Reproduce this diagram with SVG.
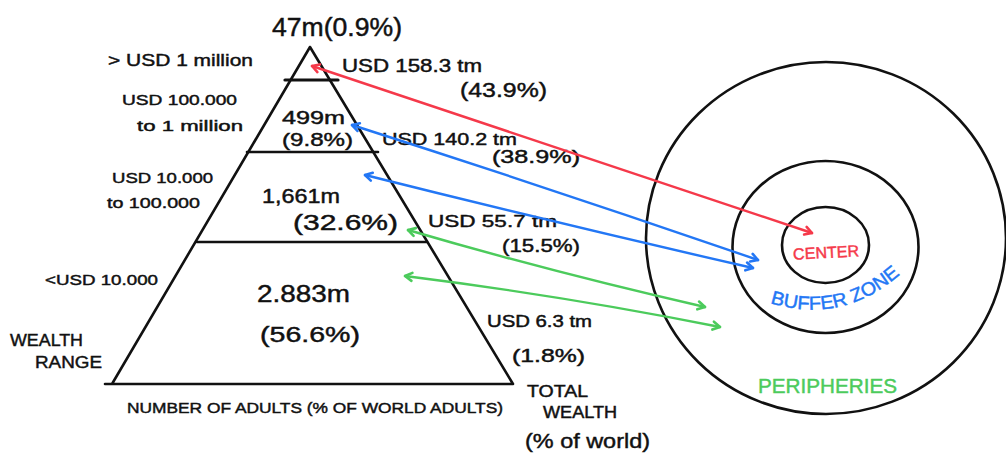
<svg xmlns="http://www.w3.org/2000/svg" width="1006" height="456" viewBox="0 0 1006 456">
<defs>
<style>
text{font-family:"Liberation Sans","DejaVu Sans",sans-serif;fill:#111;stroke:#111;stroke-width:0.45;}
.shape{fill:none;stroke:#111;stroke-width:2.6;stroke-linecap:round;stroke-linejoin:round;}
.red{stroke:#f5394a;}
.blue{stroke:#2377f5;}
.green{stroke:#4ccb5c;}
.conn{fill:none;stroke-width:2.4;stroke-linecap:round;}
text.tr{fill:#f5394a;stroke:#f5394a;}
text.tb{fill:#2377f5;stroke:#2377f5;}
text.tg{fill:#4ccb5c;stroke:#4ccb5c;}
</style>
<marker id="mr" markerUnits="userSpaceOnUse" markerWidth="14" markerHeight="14" refX="10" refY="6" orient="auto-start-reverse"><path d="M3,2 L10,6 L3,10" fill="none" stroke="#f5394a" stroke-width="2.6" stroke-linecap="round" stroke-linejoin="round"/></marker>
<marker id="mb" markerUnits="userSpaceOnUse" markerWidth="14" markerHeight="14" refX="10" refY="6" orient="auto-start-reverse"><path d="M3,2 L10,6 L3,10" fill="none" stroke="#2377f5" stroke-width="2.6" stroke-linecap="round" stroke-linejoin="round"/></marker>
<marker id="mg" markerUnits="userSpaceOnUse" markerWidth="14" markerHeight="14" refX="10" refY="6" orient="auto-start-reverse"><path d="M3,2 L10,6 L3,10" fill="none" stroke="#4ccb5c" stroke-width="2.6" stroke-linecap="round" stroke-linejoin="round"/></marker>
<path id="bufferPath" d="M770,303 Q845,326 905,270"/>
</defs>
<rect width="1006" height="456" fill="#ffffff"/>

<g id="pyramid">
<path class="shape" d="M310,47 L112,384 M310,47 L513,384 M105,384 L513,384"/>
<path class="shape" d="M285,80 L338,80" style="stroke-width:3.2"/>
<path class="shape" d="M247,152 L378,152"/>
<path class="shape" d="M197,242 L427,242"/>
</g>

<g id="tier-top">
<text x="272" y="36" font-size="25" textLength="130" lengthAdjust="spacingAndGlyphs">47m(0.9%)</text>
<text x="108" y="66" font-size="17" textLength="145" lengthAdjust="spacingAndGlyphs">&gt; USD 1 million</text>
<text x="342" y="72" font-size="18" textLength="140" lengthAdjust="spacingAndGlyphs">USD 158.3 tm</text>
<text x="460" y="97" font-size="21" textLength="87" lengthAdjust="spacingAndGlyphs">(43.9%)</text>
</g>

<g id="tier-2">
<text x="122" y="105" font-size="15" textLength="115" lengthAdjust="spacingAndGlyphs">USD 100.000</text>
<text x="137" y="131" font-size="15" textLength="106" lengthAdjust="spacingAndGlyphs">to 1 million</text>
<text x="282" y="124" font-size="18" textLength="63" lengthAdjust="spacingAndGlyphs">499m</text>
<text x="282" y="146" font-size="19" textLength="71" lengthAdjust="spacingAndGlyphs">(9.8%)</text>
<text x="382" y="145" font-size="17" textLength="135" lengthAdjust="spacingAndGlyphs">USD 140.2 tm</text>
<text x="492" y="163" font-size="19" textLength="88" lengthAdjust="spacingAndGlyphs">(38.9%)</text>
</g>

<g id="tier-3">
<text x="112" y="183" font-size="15" textLength="101" lengthAdjust="spacingAndGlyphs">USD 10.000</text>
<text x="107" y="208" font-size="15" textLength="93" lengthAdjust="spacingAndGlyphs">to 100.000</text>
<text x="262" y="203" font-size="20" textLength="78" lengthAdjust="spacingAndGlyphs">1,661m</text>
<text x="293" y="230" font-size="22" textLength="105" lengthAdjust="spacingAndGlyphs">(32.6%)</text>
<text x="428" y="227" font-size="17" textLength="129" lengthAdjust="spacingAndGlyphs">USD 55.7 tm</text>
<text x="502" y="252" font-size="18" textLength="78" lengthAdjust="spacingAndGlyphs">(15.5%)</text>
</g>

<g id="tier-4">
<text x="45" y="285" font-size="15" textLength="113" lengthAdjust="spacingAndGlyphs">&lt;USD 10.000</text>
<text x="257" y="302" font-size="24" textLength="93" lengthAdjust="spacingAndGlyphs">2.883m</text>
<text x="260" y="342" font-size="22" textLength="100" lengthAdjust="spacingAndGlyphs">(56.6%)</text>
<text x="487" y="327" font-size="16" textLength="105" lengthAdjust="spacingAndGlyphs">USD 6.3 tm</text>
<text x="512" y="362" font-size="19" textLength="73" lengthAdjust="spacingAndGlyphs">(1.8%)</text>
</g>

<g id="axis-labels">
<text x="10" y="346" font-size="17" textLength="73" lengthAdjust="spacingAndGlyphs">WEALTH</text>
<text x="35" y="368" font-size="17" textLength="67" lengthAdjust="spacingAndGlyphs">RANGE</text>
<text x="127" y="413" font-size="15" textLength="376" lengthAdjust="spacingAndGlyphs">NUMBER OF ADULTS (% OF WORLD ADULTS)</text>
<text x="527" y="397" font-size="16" textLength="61" lengthAdjust="spacingAndGlyphs">TOTAL</text>
<text x="543" y="418" font-size="16" textLength="74" lengthAdjust="spacingAndGlyphs">WEALTH</text>
<text x="525" y="448" font-size="21" textLength="125" lengthAdjust="spacingAndGlyphs">(% of world)</text>
</g>

<g id="peripheries">
<ellipse class="shape" cx="826" cy="238" rx="180" ry="176"/>
<text class="tg" x="758" y="393" font-size="21" textLength="139" lengthAdjust="spacingAndGlyphs">PERIPHERIES</text>
</g>

<g id="buffer-zone">
<ellipse class="shape" cx="825.5" cy="247" rx="93" ry="86"/>
<text class="tb" font-size="19"><textPath href="#bufferPath" textLength="140" lengthAdjust="spacingAndGlyphs">BUFFER ZONE</textPath></text>
</g>

<g id="center">
<ellipse class="shape" cx="825.5" cy="245" rx="43.5" ry="38"/>
<text class="tr" x="793" y="258" font-size="16" textLength="66" lengthAdjust="spacingAndGlyphs" transform="rotate(-3 825 252)">CENTER</text>
</g>

<g id="connectors">
<path class="conn red" d="M312,66 L812,233" marker-start="url(#mr)" marker-end="url(#mr)"/>
<path class="conn blue" d="M352,125 Q555,190 758,260" marker-start="url(#mb)" marker-end="url(#mb)"/>
<path class="conn blue" d="M365,175 Q560,224 753,268" marker-start="url(#mb)" marker-end="url(#mb)"/>
<path class="conn green" d="M408,230 Q555,273 705,307" marker-start="url(#mg)" marker-end="url(#mg)"/>
<path class="conn green" d="M405,276 Q565,296 720,327" marker-start="url(#mg)" marker-end="url(#mg)"/>
</g>
</svg>
